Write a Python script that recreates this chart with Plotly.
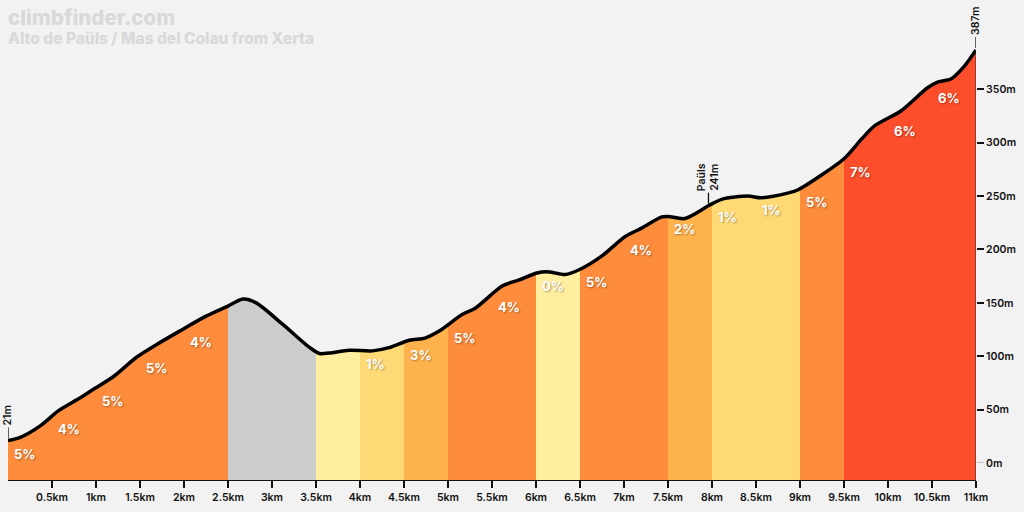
import numpy as np
import plotly.graph_objects as go

# ---- data ----
dist_km = [0, 0.14, 0.37, 0.575, 0.82, 0.97, 1.2, 1.46, 1.69, 1.95, 2.25, 2.5, 2.67, 2.82,
           3.12, 3.43, 3.54, 3.65, 3.88, 4.14, 4.33, 4.56, 4.74, 4.9, 5.16, 5.31, 5.62, 5.81,
           6.01, 6.15, 6.33, 6.49, 6.75, 7.01, 7.2, 7.43, 7.5, 7.69, 7.96, 8.11, 8.41, 8.56,
           8.87, 8.98, 9.24, 9.5, 9.7, 9.85, 10.15, 10.45, 10.57, 10.72, 10.87, 11.0]
elev_m = [21, 24, 35, 49, 61, 69, 81, 99, 111, 123.5, 137.5, 147, 153.5, 150,
          130, 108, 102.5, 103, 105.5, 105, 108, 115, 117, 123.5, 139, 145, 166, 171.5,
          178, 179, 176.5, 181, 194, 212, 220, 230.5, 231, 229, 241, 247, 250, 248.5,
          253, 256, 269.5, 285, 303.5, 316, 330, 351.5, 357, 360, 372, 387]

seg_start_km = [0, 0.5, 1, 1.5, 2, 2.5, 3, 3.5, 4, 4.5, 5, 5.5, 6, 6.5, 7, 7.5, 8, 8.5, 9, 9.5, 10, 10.5]
seg_grade = [5, 4, 5, 5, 4, -1, -7, 0, 1, 3, 5, 4, 0, 5, 4, 2, 1, 1, 5, 7, 6, 6]
seg_label = ["5%", "4%", "5%", "5%", "4%", "", "", "", "1%", "3%", "5%", "4%", "0%", "5%",
             "4%", "2%", "1%", "1%", "5%", "7%", "6%", "6%"]
seg_len_km = 0.5

x_tick_vals = [0.5, 1, 1.5, 2, 2.5, 3, 3.5, 4, 4.5, 5, 5.5, 6, 6.5, 7, 7.5, 8, 8.5, 9, 9.5, 10, 10.5, 11]
x_tick_text = ["0.5km", "1km", "1.5km", "2km", "2.5km", "3km", "3.5km", "4km", "4.5km", "5km",
               "5.5km", "6km", "6.5km", "7km", "7.5km", "8km", "8.5km", "9km", "9.5km", "10km",
               "10.5km", "11km"]
y_tick_vals = [50, 100, 150, 200, 250, 300, 350]
y_tick_text = ["50m", "100m", "150m", "200m", "250m", "300m", "350m"]
y_zero_val = [0]
y_zero_text = ["0m"]

markers_km = [0, 7.96, 11.0]
markers_elev = [21, 241, 387]
markers_text = ["21m", "Paüls<br>241m", "387m"]

title_text = "climbfinder.com"
subtitle_text = "Alto de Paüls / Mas del Colau from Xerta"

Y_MIN, Y_MAX = -16, 424.4
FONT = "Inter"


def grade_color(g):
    if g < 0:
        return "#CCCCCC"
    if g < 1:
        return "#FFEDA0"
    if g < 2:
        return "#FED976"
    if g < 4:
        return "#FEB24C"
    if g < 6:
        return "#FD8D3C"
    return "#FC4E2A"


d = np.array(dist_km)
e = np.array(elev_m)

fig = go.Figure()

for s, g in zip(seg_start_km, seg_grade):
    a, b = s, s + seg_len_km
    inner = [x for x in dist_km if a < x < b]
    xs = [a] + inner + [b]
    ys = list(np.interp(xs, d, e))
    fig.add_trace(go.Scatter(
        x=xs + [b, a], y=ys + [Y_MIN, Y_MIN], fill="toself", mode="none",
        fillcolor=grade_color(g), line=dict(width=0), hoverinfo="skip", showlegend=False))

fig.add_trace(go.Scatter(x=dist_km, y=elev_m, mode="lines",
                         line=dict(color="#000000", width=3.5, shape="spline", smoothing=0.8),
                         hoverinfo="skip", showlegend=False))

shapes = [dict(type="line", xref="x", yref="y", x0=dist_km[-1], x1=dist_km[-1], y0=Y_MIN,
               y1=elev_m[-1], line=dict(color="#3a2a20", width=1), layer="above")]

annotations = []
for s, lab in zip(seg_start_km, seg_label):
    if not lab:
        continue
    annotations.append(dict(
        x=s, y=float(np.interp(s, d, e)), xref="x", yref="y", text=lab, showarrow=False,
        xanchor="left", yanchor="middle", xshift=4, yshift=-13,
        font=dict(family=FONT, size=13, color="#ffffff", weight=700,
                  shadow="1px 1px 2px rgba(0,0,0,0.35)")))

for mx, my, mt in zip(markers_km, markers_elev, markers_text):
    shapes.append(dict(type="line", xref="x", yref="y", ysizemode="pixel", yanchor=my,
                       x0=mx, x1=mx, y0=2, y1=13, line=dict(color="#111111", width=1.3)))
    annotations.append(dict(
        x=mx, y=my, xref="x", yref="y", text=mt, showarrow=False, textangle=-90,
        xanchor="center", yanchor="bottom", yshift=13,
        font=dict(family=FONT, size=10.5, color="#111111", weight=600)))

annotations.append(dict(x=0, y=1, xref="paper", yref="paper", text=title_text, showarrow=False,
                        xanchor="left", yanchor="top", yshift=7, xshift=-2,
                        font=dict(family=FONT, size=20.5, color="#d9d9d9", weight=800)))
annotations.append(dict(x=0, y=1, xref="paper", yref="paper", text=subtitle_text, showarrow=False,
                        xanchor="left", yanchor="top", yshift=-17, xshift=-2,
                        font=dict(family=FONT, size=15.5, color="#d9d9d9", weight=800)))

tickfont = dict(family=FONT, size=10.5, color="#111111", weight=600)

fig.update_layout(
    width=1024, height=512,
    margin=dict(l=8, r=46, t=10, b=29),
    paper_bgcolor="#F2F2F2", plot_bgcolor="#F2F2F2",
    font=dict(family=FONT, color="#111111"),
    shapes=shapes, annotations=annotations,
    xaxis=dict(range=[0, 11], tickvals=x_tick_vals, ticktext=x_tick_text, showgrid=False,
               zeroline=False, showline=True, linecolor="#111111", linewidth=1,
               ticks="outside", ticklen=7, tickwidth=1.5, tickcolor="#111111",
               tickfont=tickfont),
    yaxis=dict(range=[Y_MIN, Y_MAX], side="right", tickvals=y_tick_vals, ticktext=y_tick_text,
               showgrid=False, zeroline=False, showline=False, ticks="outside", ticklen=7,
               tickwidth=1.5, tickcolor="#111111", tickfont=tickfont),
    yaxis2=dict(range=[Y_MIN, Y_MAX], side="right", overlaying="y", tickvals=y_zero_val,
                ticktext=y_zero_text, showgrid=False, zeroline=False, showline=False,
                ticks="outside", ticklen=7, tickwidth=1, tickcolor="#c4c4c4", tickfont=tickfont),
)
# invisible trace so the second axis is drawn
fig.add_trace(go.Scatter(x=[dist_km[0]], y=[elev_m[0]], yaxis="y2", mode="markers",
                         marker=dict(opacity=0), hoverinfo="skip", showlegend=False))

fig.write_html("out.html", config={"displayModeBar": False},
               post_script="document.body.style.margin='0';document.body.style.overflow='hidden';")
